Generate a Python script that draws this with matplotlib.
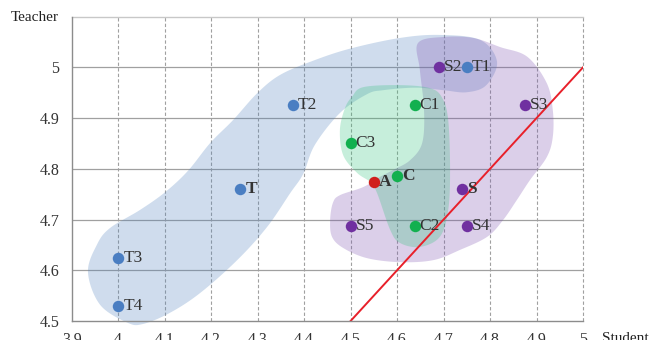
import numpy as np
import matplotlib
matplotlib.use("Agg")
import matplotlib.pyplot as plt
from matplotlib.patches import Polygon

# ---- data ----
teacher_names = ["T", "T1", "T2", "T3", "T4"]
teacher_x = [4.2625, 4.75, 4.375, 4.0, 4.0]
teacher_y = [4.76, 5.0, 4.925, 4.625, 4.53]

student_names = ["S", "S2", "S3", "S4", "S5"]
student_x = [4.74, 4.69, 4.875, 4.75, 4.5]
student_y = [4.76, 5.0, 4.925, 4.6875, 4.6875]

counsel_names = ["C", "C1", "C2", "C3"]
counsel_x = [4.6, 4.6375, 4.6375, 4.5]
counsel_y = [4.785, 4.925, 4.6875, 4.85]

all_names = ["A"]
all_x = [4.55]
all_y = [4.775]

bold_labels = ["T", "S", "C", "A"]

x_ticks = [3.9, 4.0, 4.1, 4.2, 4.3, 4.4, 4.5, 4.6, 4.7, 4.8, 4.9, 5.0]
x_ticklabels = ["3.9", "4", "4.1", "4.2", "4.3", "4.4", "4.5", "4.6", "4.7", "4.8", "4.9", "5"]
y_ticks = [4.5, 4.6, 4.7, 4.8, 4.9, 5.0]
y_ticklabels = ["4.5", "4.6", "4.7", "4.8", "4.9", "5"]

diag_x = [4.5, 5.0]
diag_y = [4.5, 5.0]

# group region outlines (data coordinates)
blue_region = [(4.053, 4.494), (4.019, 4.497), (3.961, 4.532), (3.935, 4.596), (3.954, 4.650),
               (3.982, 4.683), (4.047, 4.719), (4.101, 4.754), (4.150, 4.796), (4.198, 4.851),
               (4.247, 4.896), (4.299, 4.949), (4.348, 4.985), (4.419, 5.013), (4.499, 5.037),
               (4.606, 5.058), (4.692, 5.064), (4.779, 5.054), (4.815, 5.011), (4.792, 4.965),
               (4.75, 4.951), (4.70, 4.955), (4.64, 4.960), (4.57, 4.955), (4.535, 4.947),
               (4.477, 4.910), (4.423, 4.847), (4.398, 4.790), (4.370, 4.752), (4.320, 4.685),
               (4.256, 4.620), (4.176, 4.555), (4.111, 4.516)]

purple_region = [(4.645, 5.048), (4.70, 5.060), (4.764, 5.058), (4.822, 5.040), (4.880, 5.021),
                 (4.922, 4.969), (4.935, 4.916), (4.935, 4.863), (4.922, 4.823), (4.886, 4.778),
                 (4.858, 4.739), (4.828, 4.699), (4.794, 4.666), (4.735, 4.640), (4.678, 4.620),
                 (4.606, 4.616), (4.535, 4.624), (4.484, 4.644), (4.460, 4.666), (4.456, 4.699),
                 (4.462, 4.733), (4.477, 4.748), (4.527, 4.764), (4.563, 4.784), (4.592, 4.798),
                 (4.628, 4.817), (4.654, 4.851), (4.658, 4.916), (4.649, 4.995)]

green_region = [(4.527, 4.961), (4.606, 4.965), (4.671, 4.959), (4.697, 4.940), (4.710, 4.896),
                (4.714, 4.798), (4.710, 4.719), (4.692, 4.666), (4.649, 4.646), (4.606, 4.654),
                (4.585, 4.680), (4.557, 4.752), (4.542, 4.774), (4.514, 4.792), (4.484, 4.827),
                (4.477, 4.877), (4.488, 4.920), (4.503, 4.942)]


def smooth_closed(pts, n=24):
    P = np.asarray(pts, dtype=float)
    N = len(P)
    t = np.linspace(0, 1, n, endpoint=False)[:, None]
    out = []
    for i in range(N):
        p0, p1, p2, p3 = P[i - 1], P[i], P[(i + 1) % N], P[(i + 2) % N]
        out.append(0.5 * (2 * p1 + (-p0 + p2) * t + (2 * p0 - 5 * p1 + 4 * p2 - p3) * t ** 2
                          + (-p0 + 3 * p1 - 3 * p2 + p3) * t ** 3))
    return np.vstack(out)


plt.rcParams["font.family"] = ["Liberation Serif", "DejaVu Serif"]

fig = plt.figure(figsize=(6.61, 3.40), dpi=100)
ax = fig.add_axes([0.1085, 0.0559, 0.7735, 0.8951])
ax.set_xlim(3.9, 5.0)
ax.set_ylim(4.5, 5.1)

# grid
for yv in [4.6, 4.7, 4.8, 4.9, 5.0]:
    ax.axhline(yv, color="#a0a0a0", lw=0.9, zorder=0)
ax.axhline(5.1, color="#c8c8c8", lw=1.0, zorder=0, clip_on=False)
for xv in x_ticks[1:]:
    ax.axvline(xv, color="#a0a0a0", lw=0.8, ls=(0, (3, 2)), zorder=0, clip_on=False)

# regions
ax.add_patch(Polygon(smooth_closed(blue_region), closed=True, facecolor="#4f81bd", alpha=0.27,
                     edgecolor="none", zorder=1, clip_on=False))
ax.add_patch(Polygon(smooth_closed(purple_region), closed=True, facecolor="#7b4fb0", alpha=0.27,
                     edgecolor="none", zorder=1.1, clip_on=False))
ax.add_patch(Polygon(smooth_closed(green_region), closed=True, facecolor="#2fc27a", alpha=0.27,
                     edgecolor="none", zorder=1.2, clip_on=False))

# diagonal
ax.plot(diag_x, diag_y, color="#e8202a", lw=1.4, zorder=2)

ms = 68
ax.scatter(teacher_x, teacher_y, s=ms, color="#4a7ec2", zorder=3, linewidths=0)
ax.scatter(student_x, student_y, s=ms, color="#7030a0", zorder=3, linewidths=0)
ax.scatter(counsel_x, counsel_y, s=ms, color="#12b04f", zorder=3, linewidths=0)
ax.scatter(all_x, all_y, s=ms, color="#d0201c", zorder=3, linewidths=0)

for names, xs, ys in [(teacher_names, teacher_x, teacher_y),
                      (student_names, student_x, student_y),
                      (counsel_names, counsel_x, counsel_y),
                      (all_names, all_x, all_y)]:
    for nm, xv, yv in zip(names, xs, ys):
        ax.annotate(nm, (xv, yv), xytext=(3.6, 0), textcoords="offset points",
                    ha="left", va="center", fontsize=12.5, color="#333333",
                    fontweight="bold" if nm in bold_labels else "normal", zorder=4)

# spines
for s in ["top", "right"]:
    ax.spines[s].set_visible(False)
ax.spines["left"].set_color("#8c8c8c")
ax.spines["bottom"].set_color("#8c8c8c")
ax.spines["left"].set_linewidth(1.0)
ax.spines["bottom"].set_linewidth(1.0)

ax.set_xticks(x_ticks)
ax.set_xticklabels(x_ticklabels)
ax.set_yticks(y_ticks)
ax.set_yticklabels(y_ticklabels)
ax.tick_params(axis="both", length=0, labelsize=11.5, colors="#333333")
ax.tick_params(axis="y", pad=9)
ax.tick_params(axis="x", pad=8)

fig.text(59 / 661, 1 - 17.5 / 340, "Teacher", ha="right", va="center", fontsize=11, color="#222222")
fig.text(602 / 661, 1 - 338 / 340, "Student", ha="left", va="center", fontsize=11, color="#222222")

fig.savefig("out.png", dpi=100)
